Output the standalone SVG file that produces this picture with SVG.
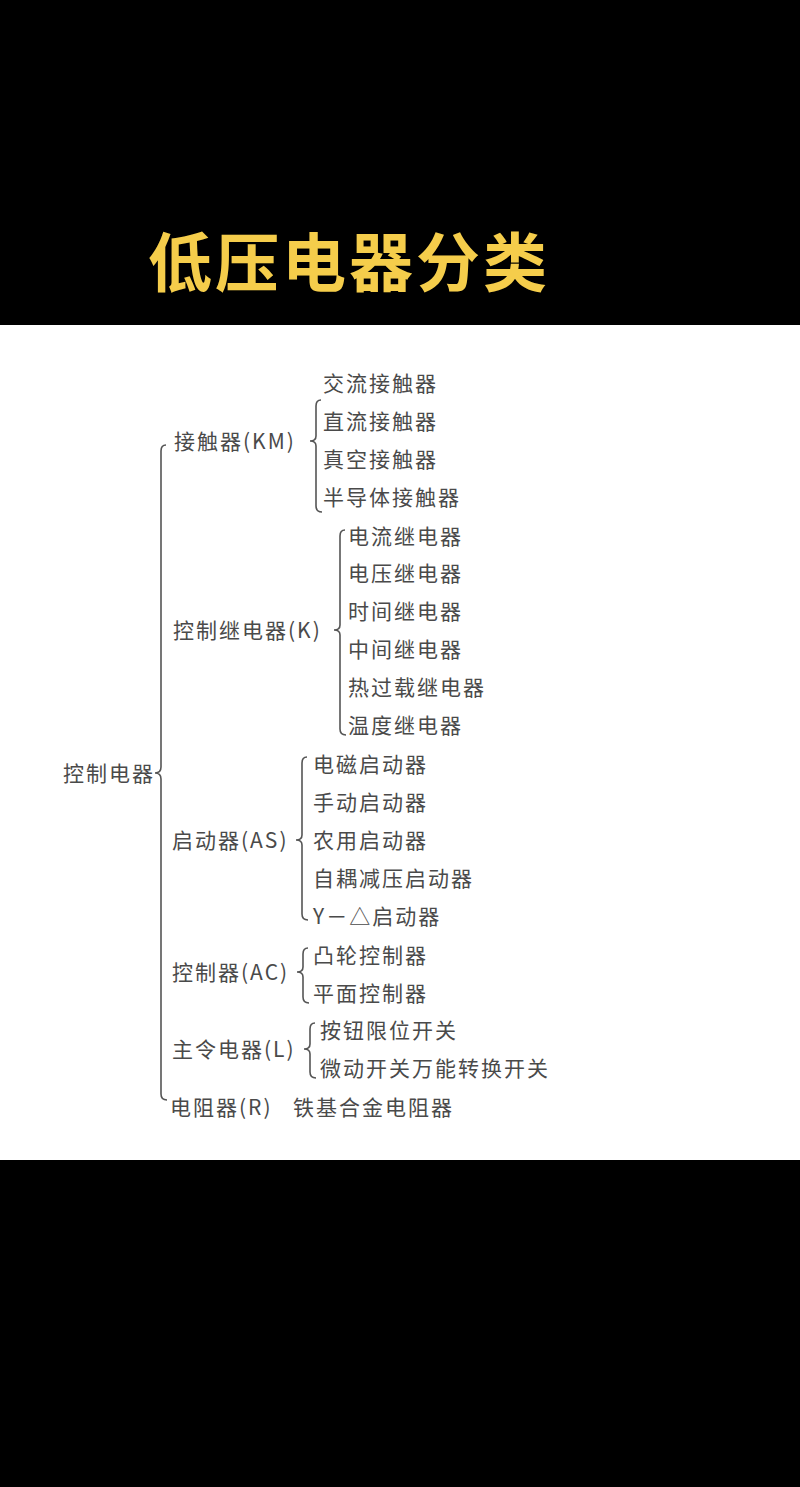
<svg xmlns="http://www.w3.org/2000/svg" width="800" height="1487" viewBox="0 0 800 1487">
<style>
text{font-family:"Noto Sans CJK SC","Liberation Serif",serif;font-size:21px;fill:#4a4a4a;letter-spacing:2px}
.b{fill:none;stroke:#555;stroke-width:1.6}
</style>
<rect width="800" height="1487" fill="#000"/>
<rect y="325" width="800" height="835" fill="#fff"/>
<text x="148" y="286" style="font-size:64px;font-weight:bold;fill:#f5cd4b;letter-spacing:3px">低压电器分类</text>
<g id="connectors">
<path class="b" d="M166,445 Q161,445 161,451 L161,767 Q161,773 155,773 Q161,773 161,779 L161,1094 Q161,1100 167,1100"/>
<path class="b" d="M321,400 Q316,400 316,406 L316,436 Q316,441 310,441 Q316,441 316,446 L316,506 Q316,512 322,512"/>
<path class="b" d="M345,530 Q340,530 340,536 L340,625 Q340,630 334,630 Q340,630 340,635 L340,729 Q340,735 346,735"/>
<path class="b" d="M307,757 Q302,757 302,763 L302,835 Q302,840 296,840 Q302,840 302,845 L302,914 Q302,920 308,920"/>
<path class="b" d="M308,948 Q303,948 303,954 L303,967 Q303,972 297,972 Q303,972 303,977 L303,997 Q303,1003 309,1003"/>
<path class="b" d="M315,1023 Q310,1023 310,1029 L310,1044 Q310,1049 304,1049 Q310,1049 310,1054 L310,1072 Q310,1078 316,1078"/>
</g>
<g id="root"><text x="63" y="781">控制电器</text></g>
<g id="km"><text x="174" y="449">接触器(KM)</text>
<text x="323" y="391">交流接触器</text><text x="323" y="429">直流接触器</text><text x="323" y="467">真空接触器</text><text x="323" y="505">半导体接触器</text></g>
<g id="k"><text x="173" y="638">控制继电器(K)</text>
<text x="348" y="544">电流继电器</text><text x="348" y="581">电压继电器</text><text x="348" y="619">时间继电器</text><text x="348" y="657">中间继电器</text><text x="348" y="695">热过载继电器</text><text x="348" y="733">温度继电器</text></g>
<g id="as"><text x="172" y="848">启动器(AS)</text>
<text x="313" y="772">电磁启动器</text><text x="313" y="810">手动启动器</text><text x="313" y="848">农用启动器</text><text x="313" y="886">自耦减压启动器</text><text x="313" y="924">Y－△启动器</text></g>
<g id="ac"><text x="172" y="980">控制器(AC)</text>
<text x="313" y="963">凸轮控制器</text><text x="313" y="1001">平面控制器</text></g>
<g id="l"><text x="172" y="1057">主令电器(L)</text>
<text x="320" y="1038">按钮限位开关</text><text x="320" y="1076">微动开关万能转换开关</text></g>
<g id="r"><text x="170" y="1115">电阻器(R)</text><text x="293" y="1115">铁基合金电阻器</text></g>
</svg>
